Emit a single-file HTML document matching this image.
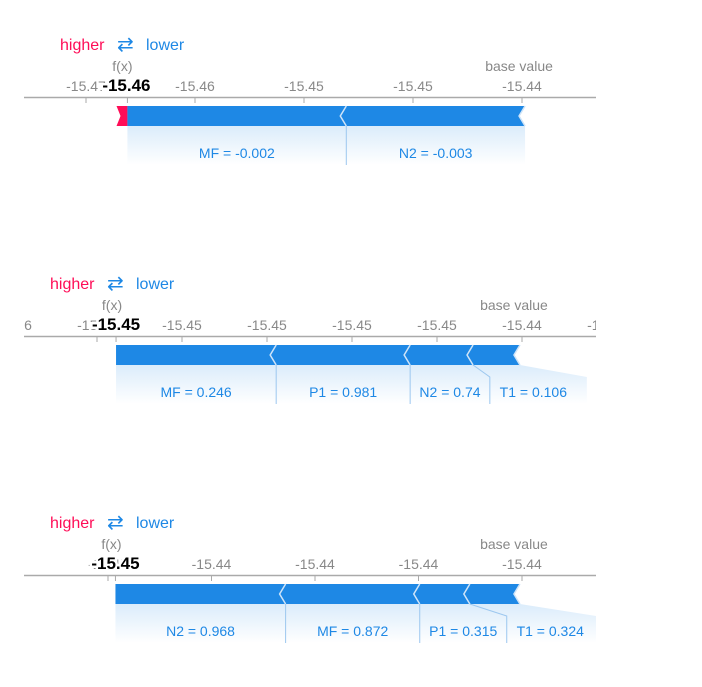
<!DOCTYPE html>
<html><head><meta charset="utf-8">
<style>
html,body{margin:0;padding:0;background:#fff;width:702px;height:687px;overflow:hidden}
svg{position:absolute;left:0;top:0;font-family:"Liberation Sans",Arial,sans-serif}
</style></head>
<body>
<svg id="chart" width="702" height="687" viewBox="0 0 702 687">
<defs>
<linearGradient id="fadeB" x1="0" y1="0" x2="0" y2="1">
<stop offset="0" stop-color="#1E88E5" stop-opacity="0.16"/>
<stop offset="1" stop-color="#1E88E5" stop-opacity="0"/>
</linearGradient>
<clipPath id="clipAxis"><rect x="24" y="0" width="572" height="687"/></clipPath>
</defs>
</svg>
<script>
// Panel 1
const p1Base = -15.44793;
const p1Features = ["MF", "N2"];
const p1Values = ["-0.002", "-0.003"];
const p1Shap = [-0.00502, -0.00410];
const p1Pos = [0.00025];
const p1TickValues = [-15.4580, -15.4555, -15.4530, -15.4505, -15.4480];
const p1TickLabels = ["-15.47", "-15.46", "-15.45", "-15.45", "-15.44"];
// Panel 2
const p2Base = -15.44006;
const p2Features = ["MF", "P1", "N2", "T1"];
const p2Values = ["0.246", "0.981", "0.74", "0.106"];
const p2Shap = [-0.00471, -0.00394, -0.00185, -0.00138];
const p2Pos = [];
const p2TickValues = [-15.4550, -15.4525, -15.4500, -15.4475, -15.4450, -15.4425, -15.4400, -15.4375];
const p2TickLabels = ["-15.46", "-15.45", "-15.45", "-15.45", "-15.45", "-15.45", "-15.44", "-15.44"];
// Panel 3
const p3Base = -15.44005;
const p3Features = ["N2", "MF", "P1", "T1"];
const p3Values = ["0.968", "0.872", "0.315", "0.324"];
const p3Shap = [-0.00411, -0.00324, -0.00121, -0.00121];
const p3Pos = [];
const p3TickValues = [-15.4525, -15.4500, -15.4475, -15.4450, -15.4425, -15.4400];
const p3TickLabels = ["-15.45", "-15.45", "-15.44", "-15.44", "-15.44", "-15.44"];

const NS = "http://www.w3.org/2000/svg";
const svg = document.getElementById("chart");
function mk(tag, attrs, parent) {
  const e = document.createElementNS(NS, tag);
  for (const k in attrs) e.setAttribute(k, attrs[k]);
  (parent || svg).appendChild(e);
  return e;
}

function drawPanel(cfg) {
  const oy = cfg.oy;
  const x = v => 522 + (v - cfg.ref) * cfg.k;
  const g = mk("g", {});
  
  

  const hl = mk("text", {x: cfg.lx, y: oy + 50, "font-size": 16, fill: "#FF0D57"}, g);
  hl.textContent = "higher";
  
  
  const ar = mk("text", {x: cfg.lx + 57, y: oy + 51, "font-size": 20, fill: "#1E88E5"}, g);
  ar.textContent = "⇄";
  
  
  const lw = mk("text", {x: cfg.lx + 86, y: oy + 50, "font-size": 16, fill: "#1E88E5"}, g);
  lw.textContent = "lower";
  
  

  const axis = mk("line", {x1: 24, x2: 596, y1: oy + 97.5, y2: oy + 97.5, stroke: "#aaa", "stroke-width": 1.5}, g);
  
  
  const tg = mk("g", {"clip-path": "url(#clipAxis)"}, g);
  cfg.ticks.forEach((tv, i) => {
    const tx = x(tv);
    const t = mk("line", {x1: tx, x2: tx, y1: oy + 97, y2: oy + 103, stroke: "#aaa", "stroke-width": 1}, tg);
    
    
    const tl = mk("text", {x: tx, y: oy + 91, "font-size": 14, fill: "#888", "text-anchor": "middle"}, tg);
    tl.textContent = cfg.tickLabels[i];
    
    
  });

  let sumNeg = 0, sumPos = 0;
  cfg.shap.forEach(s => sumNeg += s);
  cfg.pos.forEach(s => sumPos += s);
  const fx = cfg.base + sumNeg + sumPos;
  const baseX = x(cfg.base);
  const startX = x(cfg.base + sumNeg);

  const top = oy + 106, bot = oy + 126, mid = oy + 116;
  let cur = startX;
  cfg.pos.forEach(s => {
    const a = cur - s * cfg.k, b = cur;
    const r = mk("polygon", {points: `${a},${top} ${b},${top} ${b},${bot} ${a},${bot} ${a + 4},${mid}`, fill: "#FF0D57"}, g);
    
    
    cur = a;
  });
  const fl = mk("line", {x1: startX, x2: startX, y1: oy + 97, y2: oy + 103, stroke: "#aaa"}, g);
  
  

  const bounds = [startX];
  let pos = startX;
  cfg.shap.forEach(s => { pos += -s * cfg.k; bounds.push(pos); });
  for (let i = 0; i < cfg.shap.length; i++) {
    const a = bounds[i], b = bounds[i + 1];
    const lt = i === 0 ? 0 : 6;
    const p = mk("polygon", {points: `${a},${top} ${b},${top} ${b - 6},${mid} ${b},${bot} ${a},${bot} ${a - lt},${mid}`, fill: "#1E88E5"}, g);
    
    
    if (i > 0) {
      const c = mk("polyline", {points: `${a},${top} ${a - 6},${mid} ${a},${bot}`, fill: "none", stroke: "#cfe4f8", "stroke-width": 1.5}, g);
      
      
    }
  }
  const endC = mk("polyline", {points: `${baseX},${top} ${baseX - 6},${mid} ${baseX},${bot}`, fill: "none", stroke: "#cfe4f8", "stroke-width": 1.5}, g);
  
  

  let lstart = bounds[0];
  const ly1 = bot, ly2 = oy + 165, lyk = oy + 138;
  for (let i = 0; i < cfg.shap.length; i++) {
    const txt = cfg.features[i] + " = " + cfg.values[i];
    const tw = txt.length * 7.3 + 14;
    const segA = bounds[i], segB = bounds[i + 1];
    const a = Math.max(segA, lstart);
    const b = Math.max(segB, a + tw);
    const last = i === cfg.shap.length - 1;
    const bEnd = last ? Math.min(596, Math.max(b, segB) + (b > segB + 2 ? 10 : 0)) : b;
    const bg = mk("polygon", {points: `${segA},${ly1} ${segB},${ly1} ${bEnd},${lyk} ${bEnd},${ly2} ${a},${ly2} ${a},${lyk}`, fill: "url(#fadeB)"}, g);
    
    
    if (i > 0) {
      const d = mk("polyline", {points: `${segA},${ly1} ${a},${lyk} ${a},${ly2}`, fill: "none", stroke: "#9cc7ef", "stroke-width": 1}, g);
      
      
    }
    const t = mk("text", {x: (a + b) / 2, y: ly1 + 32, "font-size": 14, fill: "#1E88E5", "text-anchor": "middle"}, g);
    t.textContent = txt;
    
    
    lstart = b;
  }

  const fxl = mk("text", {x: startX + cfg.fxOff - 4, y: oy + 71, "font-size": 14, fill: "#888", "text-anchor": "middle"}, g);
  fxl.textContent = "f(x)";
  
  
  const fxv = mk("text", {x: startX + cfg.fxOff, y: oy + 91, "font-size": 17, "font-weight": "bold", fill: "#000", "text-anchor": "middle", stroke: "#fff", "stroke-width": 5, "paint-order": "stroke"}, g);
  fxv.textContent = fx.toFixed(2);
  
  
  const bl = mk("text", {x: baseX - 6, y: oy + 71, "font-size": 14, fill: "#888", "text-anchor": "middle"}, g);
  bl.textContent = "base value";
  
  
}

drawPanel({name: "force-plot-1", oy: 0, lx: 60, k: 43600, ref: -15.4480, fxOff: -1, base: p1Base, features: p1Features, values: p1Values, shap: p1Shap, pos: p1Pos, ticks: p1TickValues, tickLabels: p1TickLabels});
drawPanel({name: "force-plot-2", oy: 239, lx: 50, k: 34000, ref: -15.4400, fxOff: 0, base: p2Base, features: p2Features, values: p2Values, shap: p2Shap, pos: p2Pos, ticks: p2TickValues, tickLabels: p2TickLabels});
drawPanel({name: "force-plot-3", oy: 478, lx: 50, k: 41400, ref: -15.4400, fxOff: 0, base: p3Base, features: p3Features, values: p3Values, shap: p3Shap, pos: p3Pos, ticks: p3TickValues, tickLabels: p3TickLabels});
</script>
</body></html>
